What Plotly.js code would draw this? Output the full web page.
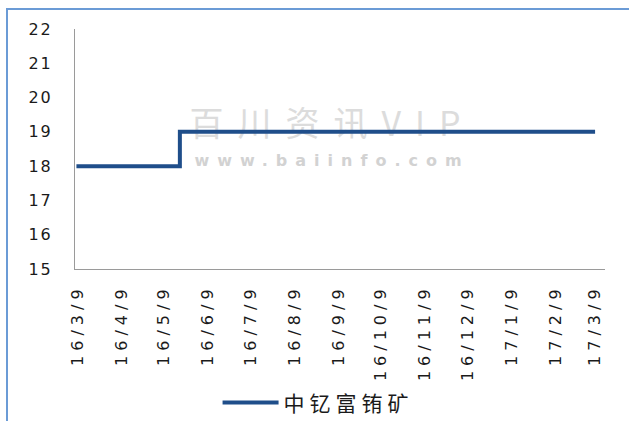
<!DOCTYPE html>
<html>
<head>
<meta charset="utf-8">
<script src="https://cdn.plot.ly/plotly-3.0.1.min.js"></script>
<style>
  html, body { margin: 0; padding: 0; background: #fff; }
  #wrap { position: relative; width: 629px; height: 421px; }
  #chart { width: 629px; height: 421px; }
  #frame { position: absolute; left: 6px; top: 8px; right: 0; bottom: 0;
           border-left: 2px solid #6b9bd6; border-top: 2px solid #6b9bd6;
           pointer-events: none; }
</style>
</head>
<body>
<div id="wrap">
  <div id="chart"></div>
  <div id="frame"></div>
</div>
<script>
// ---- data ----
const seriesName = '中钇富铕矿';
const dates  = ['2016-03-08', '2016-05-20', '2017-03-09'];
const values = [18, 19, 19];
const tickDates  = ['2016-03-09','2016-04-09','2016-05-09','2016-06-09','2016-07-09','2016-08-09',
                    '2016-09-09','2016-10-09','2016-11-09','2016-12-09','2017-01-09','2017-02-09','2017-03-09'];
const tickLabels = ['16/3/9','16/4/9','16/5/9','16/6/9','16/7/9','16/8/9',
                    '16/9/9','16/10/9','16/11/9','16/12/9','17/1/9','17/2/9','17/3/9'];
const yTicks = [15, 16, 17, 18, 19, 20, 21, 22];
const watermarkMain = '百川资讯VIP';
const watermarkSub  = 'www.baiinfo.com';

const trace = {
  x: dates, y: values, name: seriesName,
  type: 'scatter', mode: 'lines',
  line: { shape: 'hv', color: '#1f4e8a', width: 4 }
};

const layout = {
  width: 629, height: 421,
  margin: { l: 75, r: 24, t: 29, b: 152, autoexpand: false },
  paper_bgcolor: '#ffffff', plot_bgcolor: '#ffffff',
  font: { family: 'DejaVu Sans, Arial, sans-serif', size: 16, color: '#1a1a1a' },
  showlegend: true,
  xaxis: {
    type: 'date', automargin: false,
    range: ['2016-03-07', '2017-03-16'],
    tickmode: 'array', tickvals: tickDates, ticktext: tickLabels,
    tickangle: -90, ticks: '', ticklabelstandoff: 8,
    showgrid: false, zeroline: false,
    showline: true, linecolor: '#9a9a9a', linewidth: 1,
    tickfont: { family: 'DejaVu Sans, Arial, sans-serif', size: 16, color: '#1a1a1a' }
  },
  yaxis: {
    range: [15, 22], tickmode: 'array', tickvals: yTicks, automargin: false,
    ticks: '', ticklabelstandoff: 18,
    showgrid: false, zeroline: false,
    showline: true, linecolor: '#9a9a9a', linewidth: 1,
    tickfont: { family: 'DejaVu Sans, Arial, sans-serif', size: 16, color: '#1a1a1a' }
  },
  legend: {
    orientation: 'h', x: 0.269, xanchor: 'left', y: -0.558, yanchor: 'middle',
    font: { family: 'Noto Sans CJK SC, sans-serif', size: 21, color: '#1a1a1a' },
    itemwidth: 56, bgcolor: 'rgba(0,0,0,0)'
  },
  shapes: [
    { type: 'rect', xref: 'paper', yref: 'paper', x0: 0.06, x1: 0.91, y0: 0.54, y1: 0.65,
      layer: 'below', line: { width: 0 }, fillcolor: 'rgba(0,0,0,0)',
      label: { text: watermarkMain, textposition: 'middle center',
               font: { family: 'Noto Sans CJK SC, sans-serif', size: 34, color: '#dcdcdc' } } },
    { type: 'rect', xref: 'paper', yref: 'paper', x0: 0.06, x1: 0.91, y0: 0.42, y1: 0.49,
      layer: 'below', line: { width: 0 }, fillcolor: 'rgba(0,0,0,0)',
      label: { text: watermarkSub, textposition: 'middle center',
               font: { family: 'DejaVu Sans, Arial, sans-serif', size: 16, color: '#d2d2d2', weight: 'bold' } } }
  ]
};

Plotly.newPlot('chart', [trace], layout, { staticPlot: true, displayModeBar: false }).then(function (gd) {
  // the reference uses a wide, stretched font: widen text with letter-spacing
  gd.querySelectorAll('.xtick text').forEach(function (t) { t.style.letterSpacing = '5px'; });
  gd.querySelectorAll('.ytick text').forEach(function (t) { t.style.letterSpacing = '2px'; });
  gd.querySelectorAll('.legend .scrollbox, .legend [clip-path]').forEach(function (el) {
    el.removeAttribute('clip-path');
  });
  gd.querySelectorAll('svg text').forEach(function (t) {
    const s = t.textContent;
    if (s === watermarkMain) t.style.letterSpacing = '14px';
    else if (s === watermarkSub) t.style.letterSpacing = '8px';
    else if (s === seriesName) t.style.letterSpacing = '5px';
  });
});
</script>
</body>
</html>
